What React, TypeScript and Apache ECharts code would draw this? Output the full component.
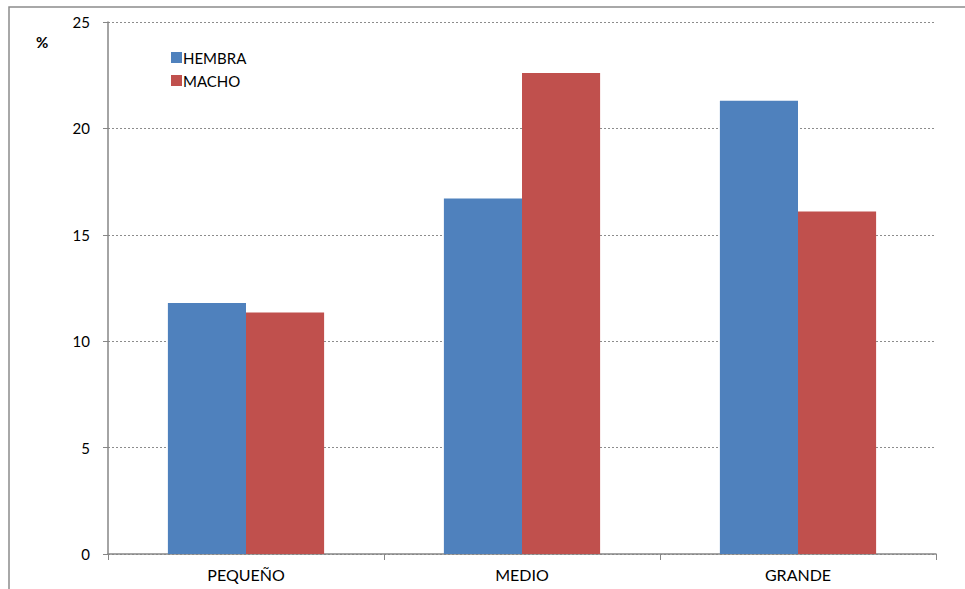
import React, { useEffect, useRef } from "react";
import * as echarts from "echarts";

const categories = ["PEQUEÑO", "MEDIO", "GRANDE"];
const hembra = [11.8, 16.7, 21.3];
const macho = [11.35, 22.6, 16.1];
const seriesNames = ["HEMBRA", "MACHO"];

export default function App() {
  const ref = useRef<HTMLDivElement>(null);
  useEffect(() => {
    const chart = echarts.init(ref.current!, null, { renderer: "svg" });
    const font = "Lato, 'Open Sans', sans-serif";
    chart.setOption({
      animation: false,
      textStyle: { fontFamily: font },
      graphic: [
        {
          type: "rect",
          shape: { x: 9, y: 7, width: 1000, height: 700 },
          style: { fill: "none", stroke: "#8c8c8c", lineWidth: 1.5 },
          silent: true,
        },
        {
          type: "text",
          x: 36,
          y: 34,
          style: { text: "%", fontSize: 15, fontWeight: "bold", fill: "#000", fontFamily: font },
        },
      ],
      legend: {
        left: 166,
        top: 45,
        orient: "vertical",
        itemWidth: 11,
        itemHeight: 11,
        itemGap: 8,
        icon: "rect",
        textStyle: { fontSize: 15, color: "#000", padding: [0, 0, 0, -4] },
        data: seriesNames,
      },
      grid: { left: 108, top: 22, right: 29, bottom: 35 },
      xAxis: {
        type: "category",
        data: categories,
        axisLine: { lineStyle: { color: "#868686", width: 1.5 } },
        axisTick: { show: true, length: 6, lineStyle: { color: "#868686" } },
        axisLabel: { color: "#000", fontSize: 16, margin: 12 },
      },
      yAxis: {
        type: "value",
        min: 0,
        max: 25,
        interval: 5,
        axisLine: { show: true, lineStyle: { color: "#868686", width: 1.5 } },
        axisTick: { show: true, length: 5, lineStyle: { color: "#868686" } },
        axisLabel: { color: "#000", fontSize: 15, margin: 18 },
        splitLine: { lineStyle: { color: "#8c8c8c", type: [2, 2], width: 1 } },
      },
      series: [
        {
          name: seriesNames[0],
          type: "bar",
          data: hembra,
          barWidth: "28.3%",
          barGap: "0%",
          itemStyle: { color: "#4F81BD" },
        },
        {
          name: seriesNames[1],
          type: "bar",
          data: macho,
          barWidth: "28.3%",
          itemStyle: { color: "#C0504D" },
        },
      ],
    });
    return () => chart.dispose();
  }, []);
  return (
    <div
      ref={ref}
      style={{ position: "fixed", left: 0, top: 0, width: 965, height: 589, background: "#fff" }}
    />
  );
}
